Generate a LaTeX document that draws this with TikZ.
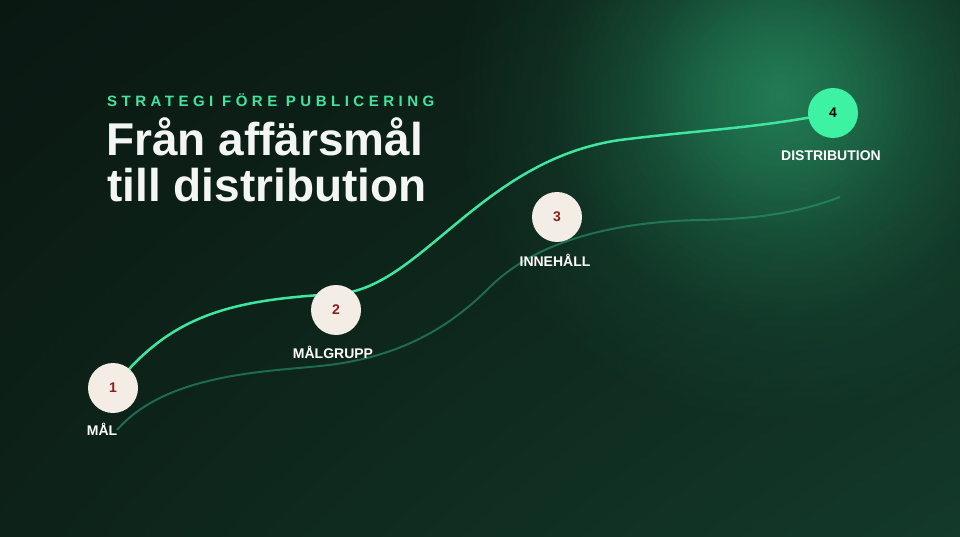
\documentclass[tikz,border=0pt]{standalone}
\usepackage{fontspec}
\setmainfont{Liberation Sans}
\newfontfamily\kickerfont[LetterSpace=30]{Liberation Sans Bold}
\usepackage{tikz}
\usetikzlibrary{backgrounds}
\usetikzlibrary{fadings}
\usetikzlibrary{shadings}

\definecolor{bgtl}{HTML}{0A1812}
\definecolor{bgtr}{HTML}{0E251B}
\definecolor{bgbl}{HTML}{0D2219}
\definecolor{bgbr}{HTML}{133A2B}
\definecolor{glowc}{HTML}{289465}
\definecolor{mint}{HTML}{3EE6A0}
\definecolor{dimline}{HTML}{2A9A6E}
\definecolor{cream}{HTML}{F4EDE6}
\definecolor{numred}{HTML}{8B1D1D}
\definecolor{goal}{HTML}{3DF2A3}
\definecolor{titlewhite}{HTML}{F3F6F4}

\tikzfading[name=glowfade, inner color=transparent!0, outer color=transparent!100]

\tikzset{
	stepnode/.style={circle, minimum size=50pt, inner sep=0pt, fill=cream, text=numred,
		font=\bfseries\fontsize{14}{14}\selectfont},
	steplabel/.style={anchor=base, inner sep=0pt, text=white,
		font=\bfseries\fontsize{14}{14}\selectfont},
	titleline/.style={anchor=base west, inner sep=0pt, text=titlewhite,
		font=\bfseries\fontsize{46}{46}\selectfont},
	glow/.style={glowc, path fading=glowfade, fill opacity=#1},
}

\begin{document}
\begin{tikzpicture}[x=1pt, y=-1pt]
		\useasboundingbox (0,0) rectangle (960,537);
		
		\node [stepnode] (n1) at (113,388) {1};
		\node [stepnode] (n2) at (336,310) {2};
		\node [stepnode] (n3) at (557,217) {3};
		\node [stepnode, fill=goal, text=black] (n4) at (833,113) {4};
		
		\node [steplabel] (l1) at (102,435) {MÅL};
		\node [steplabel] (l2) at (333,358) {MÅLGRUPP};
		\node [steplabel] (l3) at (555,266) {INNEHÅLL};
		\node [steplabel] (l4) at (831,161) {DISTRIBUTION};
		
		\node [anchor=base west, inner sep=0pt, text=mint, font=\kickerfont\fontsize{15}{15}\selectfont] (kicker) at (107,107) {STRATEGI FÖRE PUBLICERING};
		\node [titleline] (title1) at (106,156) {Från affärsmål};
		\node [titleline] (title2) at (107,202) {till distribution};
		
		\coordinate (d0) at (117,430);
		\coordinate (d1) at (320,366);
		\coordinate (d2) at (490,287);
		\coordinate (d3) at (700,220);
		\coordinate (d4) at (840,197);
		\coordinate (b2) at (336,294);
		\coordinate (b3) at (620,140);
		
		\begin{scope}[on background layer]
			\clip (0,0) rectangle (960,537);
			\shade [upper left=bgtl, upper right=bgtr, lower left=bgbl, lower right=bgbr] (0,0) rectangle (960,537);
			\fill [glow=0.35] (780,95) circle (330);
			\fill [glow=0.45] (780,95) circle (230);
			\fill [glow=0.4] (780,95) circle (140);
			
			\draw [dimline, opacity=0.6, line width=2pt] (d0) .. controls (165,375) and (260,372) .. (d1)
				.. controls (400,358) and (450,327) .. (d2)
				.. controls (530,247) and (600,222) .. (d3)
				.. controls (760,219) and (800,212) .. (d4);
			\draw [mint, line width=2.5pt] (n1.center) .. controls (170,315) and (230,300) .. (b2)
				.. controls (420,290) and (480,160) .. (b3)
				.. controls (700,130) and (760,128) .. (n4.center);
		\end{scope}
\end{tikzpicture}
\end{document}
